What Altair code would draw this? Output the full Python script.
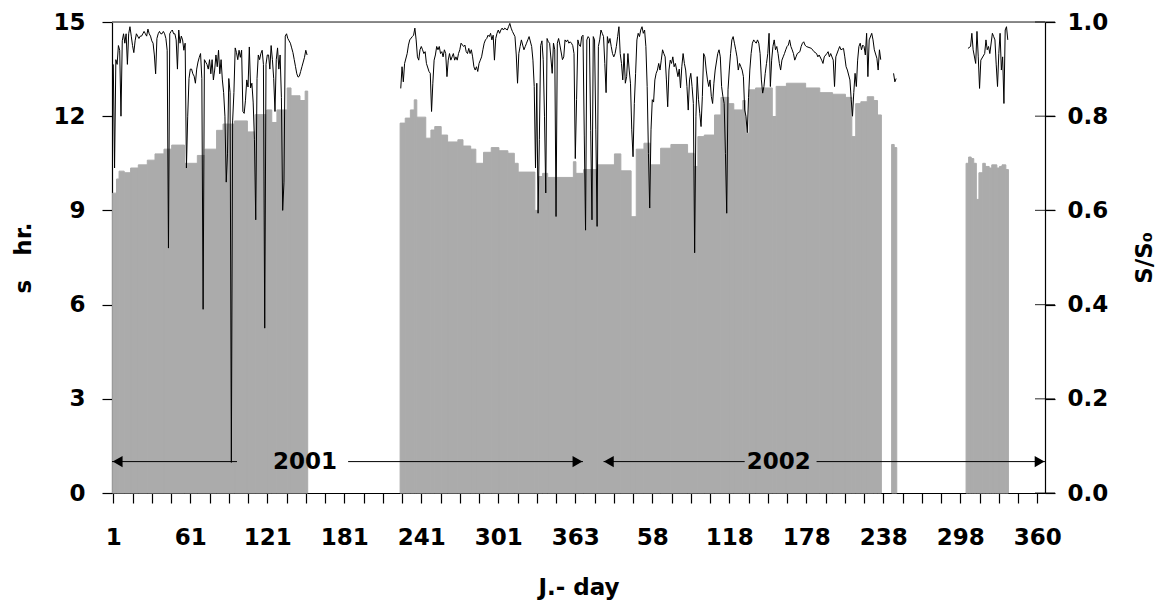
import altair as alt
import pandas as pd

# ---------------- data (x = running day index: 2001 day d -> d, 2002 continues) -------------
tick_days = [1, 61, 121, 181, 241, 301, 361, 421, 481, 541, 601, 661, 721]
tick_labels = ["1", "61", "121", "181", "241", "301", "363", "58", "118", "178", "238", "298", "360"]
minor_tick_days = list(range(1, 722, 15))
right_ticks = [0, 0.2, 0.4, 0.6, 0.8, 1.0]

# bars: runs of days (first day, last day, s hr.)
bar_start = [1, 4, 6, 10, 15, 21, 28, 34, 41, 47, 57, 67, 73, 82, 87, 96, 106, 112, 121, 125, 129, 137, 140, 147, 151,
             225, 229, 233, 236, 238, 245, 249, 252, 257, 262, 270, 274, 280, 284, 290, 296, 302, 309, 314, 317, 330,
             333, 336, 340, 360, 362, 368, 379, 392, 397, 405, 409, 415, 420, 428, 436, 449, 454, 457, 462, 470, 475,
             481, 485, 492, 494, 497, 502, 515, 518, 526, 541, 552, 562, 572, 577, 580, 584, 589, 594, 597,
             608, 610,
             666, 668, 670, 672, 674, 676, 679, 681, 684, 686, 688, 690, 692, 694, 697]
bar_end = [3, 5, 9, 14, 20, 27, 33, 40, 46, 56, 66, 72, 81, 86, 95, 105, 111, 120, 124, 128, 136, 139, 146, 150, 152,
           228, 232, 235, 237, 244, 248, 251, 256, 261, 269, 273, 279, 283, 289, 295, 301, 308, 313, 316, 329, 332,
           335, 339, 359, 361, 367, 378, 391, 396, 404, 408, 414, 419, 427, 435, 448, 453, 456, 461, 469, 474, 480,
           484, 491, 493, 496, 501, 514, 517, 525, 540, 551, 561, 571, 576, 579, 583, 588, 593, 596, 599,
           609, 611,
           667, 669, 671, 673, 675, 678, 680, 683, 685, 687, 689, 691, 693, 696, 698]
bar_hours = [9.55, 10.0, 10.25, 10.2, 10.35, 10.45, 10.6, 10.8, 10.95, 11.08, 10.5, 10.75, 10.95, 11.55, 11.75, 11.85,
             11.5, 12.05, 12.2, 11.8, 12.2, 12.9, 12.65, 12.5, 12.8,
             11.78, 11.94, 12.2, 12.52, 11.97, 11.3, 11.56, 11.67, 11.4, 11.18, 11.25, 11.05, 10.95, 10.5, 10.85,
             11.0, 10.9, 10.82, 10.5, 10.22, 9.0, 10.08, 10.18, 10.05, 10.55, 10.18, 10.3, 10.45, 10.8, 10.26, 8.8,
             10.95, 11.14, 10.45, 10.98, 11.1, 10.82, 10.4, 11.35, 11.4, 12.04, 12.6, 12.4, 12.2, 12.5, 11.46, 12.84,
             12.9, 11.99, 12.95, 13.05, 12.9, 12.75, 12.7, 12.6, 11.35, 12.4, 12.46, 12.62, 12.5, 12.04,
             11.1, 11.0,
             10.5, 10.7, 10.65, 10.5, 9.35, 10.2, 10.5, 10.4, 10.35, 10.45, 10.45, 10.35, 10.4, 10.45, 10.3]

# S/S0 line, 2001 days 1..152
sso_a_val = [.91, .69, .92, .91, .95, .94, .80, .96, .975, .955,
             .975, .91, .975, .99, .97, .95, .935, .96, .975, .97,
             .965, .97, .97, .975, .98, .975, .97, .985, .975, .97,
             .96, .955, .93, .89, .965, .975, .98, .975, .975, .98,
             .975, .965, .94, .52, .975, .98, .983, .975, .975, .962,
             .90, .983, .955, .97, .962, .94, .955, .69, .80, .88,
             .90, .90, .89, .885, .87, .90, .915, .925, .933, .88,
             .39, .92, .915, .91, .90, .92, .89, .92, .877, .898,
             .93, .905, .94, .89, .92, .877, .85, .80, .66, .72,
             .88, .85, .065, .79, .85, .945, .935, .92, .94, .925,
             .94, .81, .806, .834, .877, .862, .947, .86, .87, .83,
             .75, .58, .88, .93, .92, .933, .94, .91, .35, .91,
             .93, .93, .90, .95, .92, .88, .81, .92, .945, .90,
             .93, .84, .60, .66, .97, .975, .965, .96, .955, .945,
             .935, .92, .905, .89, .883, .885, .895, .905, .915, .925,
             .94, .93]
sso_a_day = list(range(1, 153))

# S/S0 line, day 225 (2001) .. day 599 (2002 day 236): [day, value]
sso_b = [[225, .859], [226, .905], [227, .873], [228, .912], [230, .933], [231, .951], [232, .962], [234, .969],
         [235, .972], [236, .987], [237, .962], [238, .926], [239, .919], [240, .941], [241, .948], [242, .941],
         [243, .933], [244, .937], [245, .912], [247, .895], [248, .891], [249, .81], [250, .870], [251, .919],
         [252, .930], [253, .948], [254, .941], [255, .948], [256, .933], [257, .937], [258, .926], [259, .941],
         [260, .933], [261, .884], [262, .919], [263, .933], [264, .919], [265, .926], [266, .933], [267, .919],
         [268, .926], [269, .919], [270, .933], [271, .941], [272, .955], [274, .948], [275, .951], [276, .937],
         [277, .933], [278, .944], [279, .933], [280, .941], [281, .926], [282, .905], [283, .898], [284, .905],
         [285, .895], [286, .912], [287, .919], [288, .926], [289, .941], [290, .955], [291, .962], [292, .965],
         [293, .972], [294, .969], [295, .976], [296, .962], [297, .972], [298, .919], [299, .965], [300, .976],
         [301, .983], [302, .976], [303, .983], [304, .987], [305, .983], [306, .987], [308, .983], [309, .990],
         [310, .997], [311, .987], [312, .980], [314, .969], [315, .93], [316, .87], [317, .933], [318, .948],
         [319, .962], [320, .951], [321, .941], [322, .948], [323, .955], [324, .962], [325, .969], [327, .948],
         [328, .919], [329, .863], [330, .69], [331, .87], [332, .594], [333, .75], [334, .95], [335, .96],
         [336, .92], [337, .80], [338, .637], [339, .965], [340, .958], [341, .955], [343, .891], [344, .955],
         [345, .941], [346, .587], [347, .955], [348, .965], [349, .951], [351, .92], [352, .926], [353, .962],
         [354, .958], [355, .962], [356, .955], [357, .958], [358, .955], [359, .95], [360, .933], [361, .71],
         [362, .835], [363, .962], [364, .951], [365, .948], [366, .969], [367, .972], [368, .76], [369, .558],
         [370, .962], [371, .969], [372, .965], [373, .77], [374, .58], [375, .969], [376, .962], [377, .771],
         [378, .566], [379, .948], [380, .962], [381, .983], [382, .976], [383, .969], [384, .912], [385, .85],
         [386, .969], [387, .955], [388, .965], [389, .948], [390, .933], [391, .926], [392, .933], [393, .948],
         [394, .969], [395, .990], [396, .933], [397, .912], [398, .877], [399, .933], [400, .870], [401, .884],
         [402, .933], [403, .898], [404, .870], [405, .771], [406, .714], [407, .827], [408, .891], [409, .962],
         [410, .976], [411, .969], [412, .983], [413, .990], [414, .976], [415, .983], [416, .948], [417, .863],
         [418, .721], [419, .605], [420, .771], [421, .835], [422, .83], [423, .877], [424, .891], [425, .898],
         [426, .912], [427, .898], [428, .919], [429, .941], [430, .933], [431, .926], [432, .877], [433, .820],
         [434, .898], [435, .919], [436, .912], [437, .926], [438, .905], [439, .912], [440, .898], [441, .884],
         [442, .90], [443, .86], [444, .905], [445, .933], [446, .912], [447, .898], [448, .863], [449, .813],
         [450, .877], [451, .891], [452, .863], [453, .827], [454, .51], [455, .80], [456, .884], [457, .835],
         [458, .806], [459, .778], [460, .842], [461, .933], [462, .926], [463, .898], [464, .877], [465, .863],
         [466, .877], [467, .842], [468, .827], [469, .87], [470, .898], [472, .933], [473, .941], [474, .926],
         [475, .863], [476, .842], [477, .827], [478, .721], [479, .594], [480, .856], [481, .898], [482, .933],
         [483, .962], [484, .969], [485, .955], [486, .941], [487, .926], [488, .898], [489, .912], [490, .905],
         [491, .898], [492, .884], [493, .813], [494, .80], [495, .765], [496, .84], [497, .898], [498, .933],
         [499, .955], [500, .962], [501, .958], [502, .955], [503, .962], [504, .955], [505, .933], [506, .877],
         [507, .849], [508, .863], [509, .891], [510, .912], [511, .933], [512, .976], [513, .863], [514, .919],
         [515, .948], [516, .962], [517, .941], [518, .948], [519, .933], [520, .912], [521, .898], [522, .919],
         [523, .926], [524, .933], [525, .941], [526, .948], [527, .951], [528, .962], [529, .948], [530, .941],
         [531, .933], [532, .919], [533, .926], [534, .933], [536, .937], [537, .948], [538, .955], [539, .958],
         [540, .951], [541, .948], [545, .944], [547, .937], [549, .933], [550, .926], [551, .930], [553, .919],
         [554, .912], [555, .926], [557, .933], [558, .937], [559, .926], [560, .933], [562, .919], [563, .863],
         [564, .926], [566, .941], [567, .948], [568, .941], [570, .944], [571, .926], [572, .905], [573, .898],
         [575, .877], [576, .835], [577, .80], [578, .85], [579, .891], [580, .863], [581, .919], [582, .948],
         [583, .955], [584, .941], [585, .951], [586, .948], [587, .930], [588, .976], [589, .884], [590, .962],
         [592, .976], [593, .962], [594, .941], [596, .923], [597, .898], [598, .941], [599, .92]]

# short pieces in 2002 (days 609-611 and 667-698 of the running index)
sso_c = [[609, .891], [610, .873], [611, .88]]
sso_d = [[667, .944], [669, .948], [670, .976], [671, .941], [673, .912], [674, .980], [675, .926], [676, .859],
         [677, .919], [680, .933], [681, .962], [682, .941], [683, .948], [684, .933], [686, .976], [687, .969],
         [688, .962], [689, .909], [690, .863], [691, .933], [692, .976], [693, .898], [694, .926], [695, .827],
         [696, .983], [697, .990], [698, .962]]

# year annotations (day index, s hr.)
year_text = ["2001", "2002"]
year_text_day = [150.4, 519.5]
arrow_from = [0, 184, 383, 549]
arrow_to = [97.4, 367, 493, 727]
arrow_y = 1.0
head_day = [4.4, 362.7, 387.1, 722.8]
head_dir = ["left", "right", "left", "right"]
top_line_hr = [15]
x_end = 727

# ---------------- frames ----------------
bars_df = pd.DataFrame({"x0": [s - 0.5 for s in bar_start], "x1": [e + 0.5 for e in bar_end], "hr": bar_hours})
rows = []
for d, v in zip(sso_a_day, sso_a_val):
    rows.append({"day": d, "sso": v, "seg": "a"})
for name, seg in (("b", sso_b), ("c", sso_c), ("d", sso_d)):
    for d, v in seg:
        rows.append({"day": d, "sso": v, "seg": name})
line_df = pd.DataFrame(rows)
arrows_df = pd.DataFrame({"x0": arrow_from, "x1": arrow_to, "hr": [arrow_y] * len(arrow_from)})
heads_df = pd.DataFrame({"x0": head_day, "hr": [arrow_y] * len(head_day), "dir": head_dir})
text_df = pd.DataFrame({"x0": year_text_day, "hr": [arrow_y] * 2, "t": year_text})
top_df = pd.DataFrame({"hr": top_line_hr})
rt_df = pd.DataFrame({"day": [x_end] * len(right_ticks), "sso": right_ticks})

FONT = "DejaVu Sans"
FS = 23
x_scale = alt.Scale(domain=[0, x_end], nice=False, zero=False)
y_left = alt.Scale(domain=[0, 15], nice=False, zero=True)
y_right = alt.Scale(domain=[0, 1], nice=False, zero=True)

vals = ",".join(str(v) for v in tick_days)
labs = ",".join("'" + l + "'" for l in tick_labels)
label_expr = f"indexof([{vals}], datum.value) >= 0 ? [{labs}][indexof([{vals}], datum.value)] : ''"

common = dict(labelFont=FONT, labelFontSize=FS, labelFontWeight="bold", labelColor="black",
              titleFont=FONT, titleFontSize=FS, titleFontWeight="bold", titleColor="black",
              domainColor="black", tickColor="black", grid=False, labelOverlap=False, labelFlush=False,
              domainWidth=1.2, tickWidth=1.2)

LEFT_TITLE = "s\u00a0\u00a0\u00a0hr."
x_axis = alt.Axis(values=minor_tick_days, labelExpr=label_expr, title="J.- day", tickSize=10,
                  labelPadding=23, titleBaseline="alphabetic", titleY=101, **common)
left_axis = alt.Axis(values=[0, 3, 6, 9, 12, 15], title=LEFT_TITLE, tickSize=10, labelPadding=17,
                     titleAngle=-90, titleBaseline="alphabetic", titleX=-82, **common)
right_axis = alt.Axis(orient="right", values=right_ticks, format=".1f", title="S/S₀",
                      tickSize=10, labelPadding=12, titleAngle=-90, titleBaseline="alphabetic", titleX=106,
                      **common)

X = alt.X("x0:Q", scale=x_scale, axis=x_axis, title="J.- day")
Y = alt.Y("hr:Q", scale=y_left, axis=left_axis, title=LEFT_TITLE)
XR = alt.X("day:Q", scale=x_scale, axis=x_axis, title="J.- day")
YR = alt.Y("sso:Q", scale=y_right, axis=right_axis, title="S/S₀")

BAR_GRAY = "#ababab"
bars = alt.Chart(bars_df).mark_rect(color=BAR_GRAY, stroke=BAR_GRAY, strokeWidth=1).encode(
    x=X, x2="x1:Q", y=Y, y2=alt.datum(0))
top_rule = alt.Chart(top_df).mark_rule(color="#666666", strokeWidth=1.5).encode(y=Y)
arrows = alt.Chart(arrows_df).mark_rule(color="black", strokeWidth=1).encode(x=X, x2="x1:Q", y=Y)
heads = alt.Chart(heads_df).mark_point(filled=True, color="black", opacity=1, size=130).encode(
    x=X, y=Y,
    shape=alt.Shape("dir:N", scale=alt.Scale(domain=["left", "right"], range=["triangle-left", "triangle-right"]),
                    legend=None))
texts = alt.Chart(text_df).mark_text(font=FONT, fontSize=FS, fontWeight="bold", color="black",
                                     baseline="middle", align="center").encode(x=X, y=Y, text="t:N")

left_group = alt.layer(bars, top_rule, arrows, heads, texts)

line = alt.Chart(line_df).mark_line(color="black", strokeWidth=1).encode(
    x=XR, y=YR, detail="seg:N", order="day:Q")
rticks = alt.Chart(rt_df).mark_tick(orient="horizontal", size=20, thickness=1.2, color="black").encode(
    x=XR, y=YR)
right_group = alt.layer(line, rticks)

chart = alt.layer(left_group, right_group).resolve_scale(y="independent").properties(
    width=933, height=471, autosize="none",
    padding={"left": 112, "top": 22, "right": 120, "bottom": 110},
).configure_view(stroke=None).configure(background="white")

chart.save("out.html", embed_options={"renderer": "svg", "actions": False})
